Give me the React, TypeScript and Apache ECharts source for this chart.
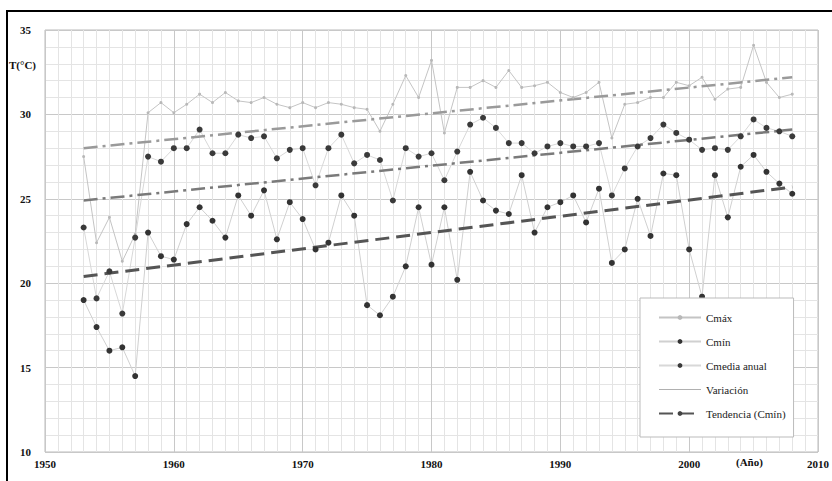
import React, { useEffect, useRef } from "react";
import * as echarts from "echarts";

const years: number[] = [];
for (let y = 1953; y <= 2008; y++) years.push(y);

const cmax = [27.5, 22.4, 23.9, 21.3, 22.9, 30.1, 30.7, 30.1, 30.6, 31.2, 30.7, 31.3, 30.8, 30.7, 31.0, 30.6, 30.4, 30.7, 30.4, 30.7, 30.6, 30.4, 30.3, 29.0, 30.6, 32.3, 31.0, 33.2, 28.9, 31.6, 31.6, 32.0, 31.6, 32.6, 31.6, 31.7, 31.9, 31.3, 31.0, 31.3, 31.9, 28.6, 30.6, 30.7, 31.0, 31.0, 31.9, 31.7, 32.2, 30.9, 31.5, 31.6, 34.1, 31.9, 31.0, 31.2];
const cmed = [23.3, 19.1, 20.7, 18.2, 22.7, 27.5, 27.2, 28.0, 28.0, 29.1, 27.7, 27.7, 28.8, 28.6, 28.7, 27.4, 27.9, 28.0, 25.8, 28.0, 28.8, 27.1, 27.6, 27.3, 24.9, 28.0, 27.5, 27.7, 26.1, 27.8, 29.4, 29.8, 29.2, 28.3, 28.3, 27.7, 28.1, 28.3, 28.1, 28.1, 28.3, 25.2, 26.8, 28.1, 28.6, 29.4, 28.9, 28.5, 27.9, 28.0, 27.9, 28.7, 29.7, 29.2, 29.0, 28.7];
const cmin = [19.0, 17.4, 16.0, 16.2, 14.5, 23.0, 21.6, 21.4, 23.5, 24.5, 23.7, 22.7, 25.2, 24.0, 25.5, 22.6, 24.8, 23.8, 22.0, 22.4, 25.2, 24.0, 18.7, 18.1, 19.2, 21.0, 24.5, 21.1, 24.5, 20.2, 26.6, 24.9, 24.3, 24.1, 26.4, 23.0, 24.5, 24.8, 25.2, 23.6, 25.6, 21.2, 22.0, 25.0, 22.8, 26.5, 26.4, 22.0, 19.2, 26.4, 23.9, 26.9, 27.6, 26.6, 25.9, 25.3];

const trendYears = [1953, 2008];
const trendMax = [28.0, 32.2];
const trendMed = [24.9, 29.1];
const trendMin = [20.4, 25.7];

const names = ["Cmáx", "Cmín", "Cmedia anual", "Variación", "Tendencia (Cmín)"];

const pairs = (xs: number[], vs: number[]) => xs.map((x, i) => [x, vs[i]]);

export default function App() {
  const ref = useRef<HTMLDivElement>(null);
  useEffect(() => {
    if (!ref.current) return;
    const chart = echarts.init(ref.current, null, { renderer: "svg" });
    const font = "Liberation Serif";
    chart.setOption({
      animation: false,
      backgroundColor: "#ffffff",
      textStyle: { fontFamily: font },
      grid: { left: 45, right: 14, top: 30, bottom: 29, show: true, borderColor: "#bbbbbb", borderWidth: 1 },
      xAxis: {
        type: "value",
        min: 1950,
        max: 2010,
        interval: 10,
        axisLine: { show: false },
        axisTick: { show: false },
        axisLabel: { color: "#111", fontSize: 11, fontWeight: "bold", margin: 6, formatter: (v: number) => String(v) },
        splitLine: { show: true, lineStyle: { color: "#c8c8c8", width: 1 } },
        minorTick: { show: false, splitNumber: 10 },
        minorSplitLine: { show: true, lineStyle: { color: "#e4e4e4", width: 1 } },
      },
      yAxis: {
        type: "value",
        min: 10,
        max: 35,
        interval: 5,
        axisLine: { show: false },
        axisTick: { show: false },
        axisLabel: { color: "#111", fontSize: 11, fontWeight: "bold", margin: 14 },
        splitLine: { show: true, lineStyle: { color: "#c8c8c8", width: 1 } },
        minorTick: { show: false, splitNumber: 5 },
        minorSplitLine: { show: true, lineStyle: { color: "#e4e4e4", width: 1 } },
      },
      legend: {
        orient: "vertical",
        left: 640,
        top: 298,
        width: 168,
        padding: [14, 8, 18, 18],
        itemGap: 13,
        itemWidth: 42,
        itemHeight: 6,
        backgroundColor: "#ffffff",
        borderColor: "#bbbbbb",
        borderWidth: 1,
        textStyle: { fontFamily: font, fontSize: 11, color: "#222" },
        data: [
          { name: names[0] },
          { name: names[1] },
          { name: names[2] },
          { name: names[3], itemStyle: { opacity: 0 }, lineStyle: { type: "solid", width: 1, color: "#b0b0b0" } },
          { name: names[4], itemStyle: { opacity: 1 } },
        ],
      },
      series: [
        {
          name: names[0],
          type: "line",
          data: pairs(years, cmax),
          symbol: "circle",
          symbolSize: 3,
          lineStyle: { color: "#c4c4c4", width: 1 },
          itemStyle: { color: "#b8b8b8" },
        },
        {
          name: names[1],
          type: "line",
          data: pairs(years, cmin),
          symbol: "circle",
          symbolSize: 6,
          lineStyle: { color: "#d0d0d0", width: 1 },
          itemStyle: { color: "#333333" },
        },
        {
          name: names[2],
          type: "line",
          data: pairs(years, cmed),
          symbol: "circle",
          symbolSize: 6,
          lineStyle: { color: "#d8d8d8", width: 1 },
          itemStyle: { color: "#3a3a3a" },
        },
        {
          name: names[3],
          type: "line",
          data: pairs(trendYears, trendMax),
          symbol: "none",
          lineStyle: { color: "#9a9a9a", width: 2.5, type: [14, 5, 3, 5] },
          itemStyle: { color: "#9a9a9a" },
        },
        {
          name: names[3],
          type: "line",
          data: pairs(trendYears, trendMed),
          symbol: "none",
          lineStyle: { color: "#7a7a7a", width: 2.5, type: [14, 5, 3, 5] },
          itemStyle: { color: "#7a7a7a" },
        },
        {
          name: names[4],
          type: "line",
          data: pairs(trendYears, trendMin),
          symbol: "none",
          lineStyle: { color: "#555555", width: 3, type: [14, 7] },
          itemStyle: { color: "#444444" },
        },
      ],
      graphic: [
        { type: "rect", shape: { x: 7, y: 11, width: 840, height: 490 }, style: { fill: "none", stroke: "#000", lineWidth: 2 }, silent: true },
        { type: "text", x: 9, y: 59, style: { text: "T(°C)", font: "bold 11px Liberation Serif", fill: "#111" } },
        { type: "text", x: 736, y: 456, style: { text: "(Año)", font: "bold 11px Liberation Serif", fill: "#111" } },
      ],
    });
    return () => chart.dispose();
  }, []);
  return <div ref={ref} style={{ position: "absolute", left: 0, top: 0, width: 832, height: 481 }} />;
}
